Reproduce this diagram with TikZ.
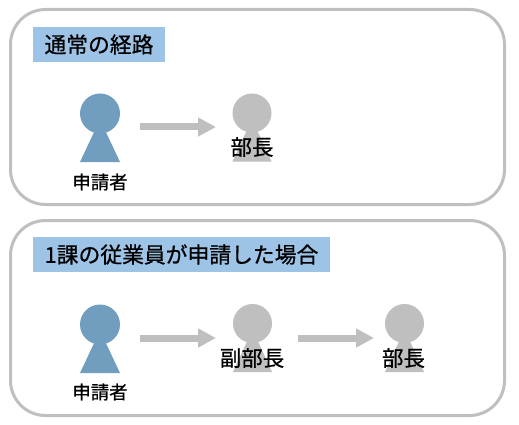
\documentclass[tikz,border=0pt]{standalone}
\usepackage{fontspec}
\setmainfont[FakeBold=0.7]{Noto Sans CJK JP}
\usetikzlibrary{arrows.meta}
\definecolor{framegray}{RGB}{191,191,191}
\definecolor{titleblue}{RGB}{157,195,230}
\definecolor{personblue}{RGB}{113,158,191}
\tikzset{x=1pt,y=-1pt,
  panel/.style={draw=framegray,line width=3pt,fill=white,rounded corners=35pt,minimum width=494pt,inner sep=0pt,outer sep=0pt},
  titlebox/.style={fill=titleblue,inner sep=0pt,outer sep=0pt,minimum height=35pt,font=\fontsize{21.8pt}{24pt}\selectfont,text=black,anchor=north west},
  head/.style={circle,inner sep=0pt,outer sep=0pt,minimum size=#1},
  big/.style={font=\fontsize{21.5pt}{24pt}\selectfont,inner sep=0pt},
  small/.style={font=\fontsize{18.4pt}{20pt}\selectfont,inner sep=0pt},
  flow/.style={draw=framegray,line width=7pt,-{Triangle[length=18pt,width=18pt]},shorten >=0pt}
}
\newcommand{\person}[5]{% name, x, y, colour, size
  \fill[#4] (#2,#3+6) -- (#2-#5/2,#3+48.5) -- (#2+#5/2,#3+48.5) -- cycle;
  \node[head=#5 pt,fill=#4] (#1) at (#2,#3) {};
}
\begin{document}
\begin{tikzpicture}
\useasboundingbox (0,0) rectangle (519,425);
\node[panel,minimum height=195pt] (p1) at (257.5,107) {};
\node[panel,minimum height=195pt] (p2) at (257.5,318) {};
\node[titlebox,minimum width=132pt] (t1) at (33,27) {通常の経路};
\node[titlebox,minimum width=297pt] (t2) at (33,237) {1課の従業員が申請した場合};
\person{a1}{100}{113.5}{personblue}{40}
\person{b1}{252}{113}{framegray}{39}
\person{a2}{100}{324.5}{personblue}{40}
\person{b2}{252.5}{323.5}{framegray}{39}
\person{c2}{404.5}{323.5}{framegray}{39}
\node[small] (la1) at (100,182) {申請者};
\node[small] (la2) at (100,392) {申請者};
\node[big] (lb1) at (252,147) {部長};
\node[big] (lb2) at (252,358) {副部長};
\node[big] (lc2) at (403.5,358) {部長};
\coordinate (s1) at (140,127);
\coordinate (e1) at (216,127);
\coordinate (s2) at (140,338);
\coordinate (e2) at (216,338);
\coordinate (s3) at (298,338);
\coordinate (e3) at (374,338);
\draw[flow] (s1) -- (e1);
\draw[flow] (s2) -- (e2);
\draw[flow] (s3) -- (e3);
\end{tikzpicture}
\end{document}
